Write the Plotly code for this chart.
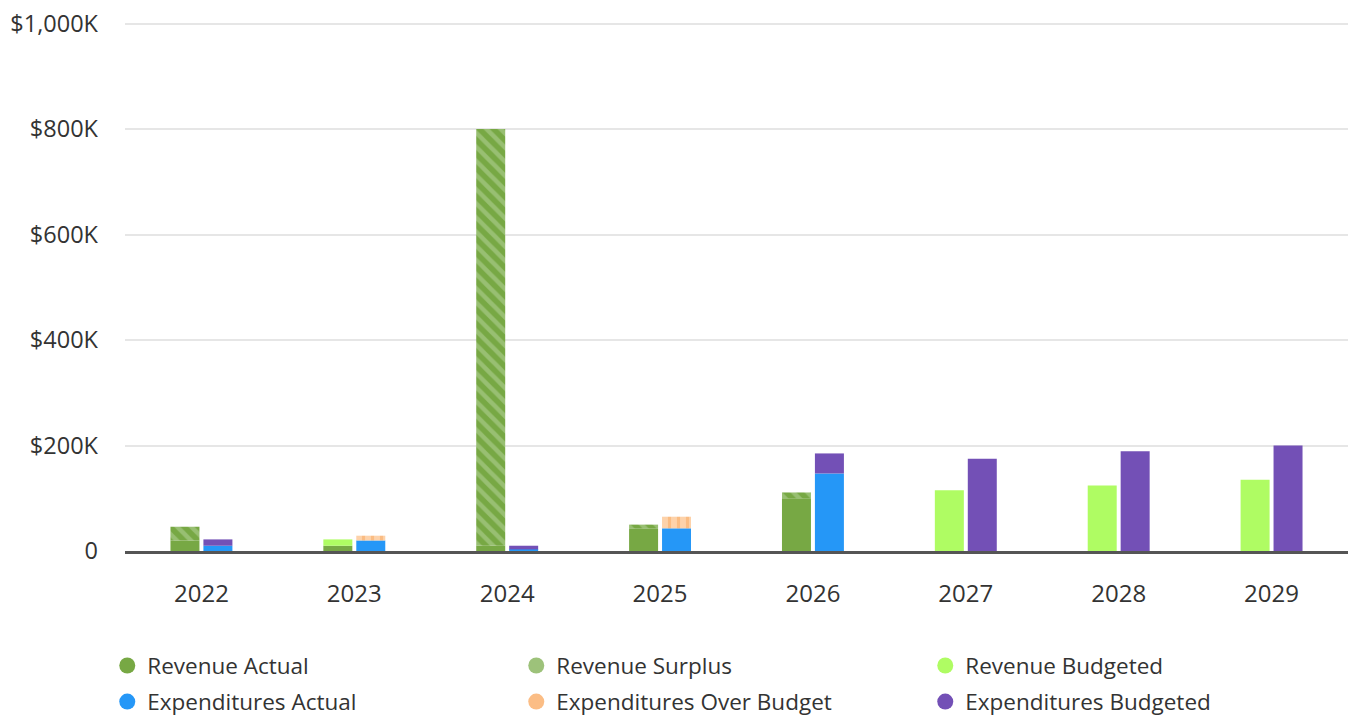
import plotly.graph_objects as go

years = ["2022", "2023", "2024", "2025", "2026", "2027", "2028", "2029"]

# segment heights in thousands of dollars
revenue_actual = [20, 10, 10, 43, 100, None, None, None]
revenue_surplus = [26, None, 790, 7, 11, None, None, None]
revenue_budgeted = [None, 12, None, None, None, 115, 124, 135]
exp_actual = [10, 20, 3, 43, 147, None, None, None]
exp_over_budget = [None, 9, None, 22, None, None, None, None]
exp_budgeted = [12, None, 7, None, 38, 175, 189, 200]

y_tickvals = [0, 200, 400, 600, 800, 1000]
y_ticktext = ["0", "$200K", "$400K", "$600K", "$800K", "$1,000K"]

C_REV = "#77a844"
C_REV_LIGHT = "#b9d69f"
C_REV_BUD = "#affc63"
C_EXP = "#2597f7"
C_EXP_OVER = "#f8a55c"
C_EXP_OVER_LIGHT = "#fdd2aa"
C_EXP_BUD = "#7350b6"

FONT = "Open Sans"
TXT = "#333333"

fig = go.Figure()

def bar(name, y, group, color, pattern=None):
    marker = dict(color=color, line=dict(width=0))
    if pattern:
        marker["pattern"] = pattern
    fig.add_trace(go.Bar(
        x=years, y=y, name=name, offsetgroup=group, marker=marker,
        showlegend=False, hoverinfo="x+y+name",
    ))

bar("Revenue Actual", revenue_actual, "rev", C_REV)
bar("Revenue Surplus", revenue_surplus, "rev", C_REV,
    dict(shape="\\", fgcolor=C_REV_LIGHT, bgcolor=C_REV, size=10, solidity=0.45,
         fillmode="overlay"))
bar("Revenue Budgeted", revenue_budgeted, "rev", C_REV_BUD)
bar("Expenditures Actual", exp_actual, "exp", C_EXP)
bar("Expenditures Over Budget", exp_over_budget, "exp", C_EXP_OVER_LIGHT,
    dict(shape="|", fgcolor=C_EXP_OVER, bgcolor=C_EXP_OVER_LIGHT, size=9, solidity=0.35,
         fillmode="overlay"))
bar("Expenditures Budgeted", exp_budgeted, "exp", C_EXP_BUD)

# legend entries (circles), two rows as two legends
legend_rows = [
    ("legend", [("Revenue Actual", C_REV),
                ("Revenue Surplus", "#9dc27a"),
                ("Revenue Budgeted", C_REV_BUD)]),
    ("legend2", [("Expenditures Actual", C_EXP),
                 ("Expenditures Over Budget", "#fbbd85"),
                 ("Expenditures Budgeted", C_EXP_BUD)]),
]
for leg, items in legend_rows:
    for name, col in items:
        fig.add_trace(go.Scatter(
            x=[None], y=[None], mode="markers", name=name, legend=leg,
            marker=dict(symbol="circle", size=20, color=col),
            showlegend=True, hoverinfo="skip",
        ))

legend_common = dict(
    orientation="h", x=-0.0145, xanchor="left", yanchor="top",
    entrywidth=364, font=dict(family=FONT, size=22.5, color=TXT),
    itemclick=False, itemdoubleclick=False, bgcolor="rgba(0,0,0,0)",
)

fig.update_layout(
    width=1351, height=717,
    barmode="relative",
    bargap=0.569, bargroupgap=0.12,
    paper_bgcolor="white", plot_bgcolor="white",
    margin=dict(l=125, r=3, t=22, b=166, autoexpand=False),
    font=dict(family=FONT, size=22, color=TXT),
    legend=dict(y=-0.1765, **legend_common),
    legend2=dict(y=-0.2448, **legend_common),
    showlegend=True,
)
fig.update_xaxes(
    type="category", showgrid=False, ticks="", showline=True,
    linecolor="#555555", linewidth=2.5, tickfont=dict(size=24, color=TXT),
    ticklabelstandoff=19, fixedrange=True, automargin=False,
)
fig.update_yaxes(
    range=[0, 1003], tickvals=y_tickvals, ticktext=y_ticktext,
    showgrid=True, gridcolor="#e6e6e6", gridwidth=2, zeroline=False,
    tickfont=dict(size=23.5, color=TXT), ticklabelstandoff=26, fixedrange=True,
    automargin=False,
)

fig.write_html(
    "out.html",
    config={"displayModeBar": False},
    post_script="document.body.style.margin='0px';document.body.style.padding='0px';"
                "document.body.style.overflow='hidden';",
)
